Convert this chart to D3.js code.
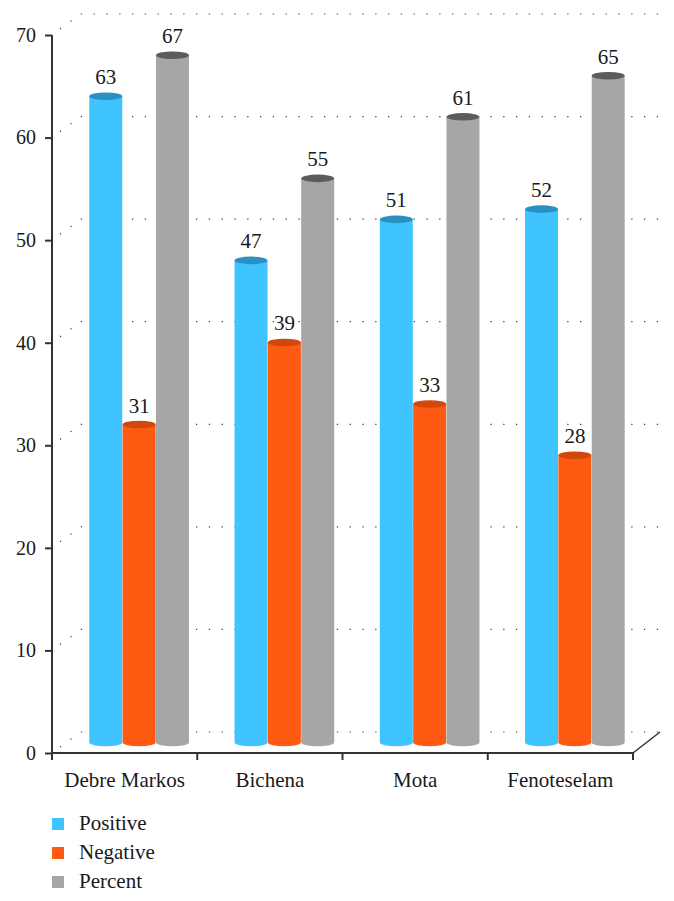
<!DOCTYPE html>
<html>
<head>
<meta charset="utf-8">
<script src="https://cdn.jsdelivr.net/npm/d3@7"></script>
<style>
  body { margin: 0; background: #fff; }
  svg text { font-family: "Liberation Serif", "DejaVu Serif", serif; fill: #1a1a1a; }
</style>
</head>
<body>
<div id="chart"></div>
<script>
// data
const categories = ['Debre Markos', 'Bichena', 'Mota', 'Fenoteselam'];
const seriesNames = ['Positive', 'Negative', 'Percent'];
const positive = [63, 47, 51, 52];
const negative = [31, 39, 33, 28];
const percent = [67, 55, 61, 65];
const yTicks = [0, 10, 20, 30, 40, 50, 60, 70];

const colors = {
  Positive: { side: '#40c4ff', top: '#2a8fc2' },
  Negative: { side: '#fe5a12', top: '#d2470b' },
  Percent: { side: '#a6a6a6', top: '#5c5c5c' }
};

const boxWidth = 674;
const boxHeight = 901;

const svg = d3.select('#chart')
  .append('svg')
  .attr('width', boxWidth)
  .attr('height', boxHeight);

// plot area
const plotLeft = 52, plotRight = 633, plotTop = 35, plotBottom = 753;
const depthX = 29, depthY = -21;   // back wall offset

const yScale = d3.scaleLinear().domain([0, 70]).range([plotBottom, plotTop]);
const xScale = d3.scaleBand().domain(categories).range([plotLeft, plotRight]);
const inner = d3.scaleBand().domain(seriesNames).range([-50, 50]);

// ********** back wall grid (dotted) **********
const grid = svg.append('g');
yTicks.forEach(t => {
  const yy = yScale(t);
  grid.append('path')
    .attr('d', `M${plotLeft + 8},${yy - 6} L${plotLeft + depthX},${yy + depthY} L660,${yy + depthY}`)
    .attr('fill', 'none')
    .attr('stroke', '#444')
    .attr('stroke-width', 1.2)
    .attr('stroke-dasharray', '1.3,11.5');
});

// ********** cylinders **********
const valuesBySeries = { Positive: positive, Negative: negative, Percent: percent };
const bars = [];
categories.forEach((c, i) => {
  seriesNames.forEach(s => {
    bars.push({ cat: c, series: s, value: valuesBySeries[s][i] });
  });
});

const rx = 16.5, ry = 3.8;
const bx = depthX / 2, by = depthY / 2;

const barG = svg.append('g');
const cyl = barG.selectAll('g.cyl')
  .data(bars)
  .enter()
  .append('g')
  .attr('class', 'cyl')
  .attr('transform', d => {
    const cx = xScale(d.cat) + xScale.bandwidth() / 2 + inner(d.series) + inner.bandwidth() / 2 + bx;
    return `translate(${cx}, ${by})`;
  });

cyl.append('path')
  .attr('d', d => {
    const yt = yScale(d.value), yb = yScale(0);
    return `M${-rx},${yt} L${-rx},${yb} A${rx},${ry} 0 0 0 ${rx},${yb} L${rx},${yt} Z`;
  })
  .attr('fill', d => colors[d.series].side);

cyl.append('ellipse')
  .attr('cx', 0)
  .attr('cy', d => yScale(d.value))
  .attr('rx', rx)
  .attr('ry', ry)
  .attr('fill', d => colors[d.series].top);

cyl.append('text')
  .attr('x', 0)
  .attr('y', d => yScale(d.value) - 12)
  .attr('text-anchor', 'middle')
  .style('font-size', '21px')
  .text(d => d.value);

// ********** axes **********
const lineColor = '#333';

const yAxis = d3.axisLeft(yScale)
  .tickValues(yTicks)
  .tickSize(7)
  .tickSizeOuter(0);

const yAxisGroup = svg.append('g')
  .attr('transform', `translate(${plotLeft}, 0)`)
  .call(yAxis);
yAxisGroup.select('.domain').remove();
yAxisGroup.selectAll('line').attr('stroke', lineColor).attr('stroke-width', 2);
yAxisGroup.selectAll('text')
  .attr('x', -16)
  .style('font-size', '20px')
  .style('font-family', '"Liberation Serif", serif')
  .attr('fill', '#1a1a1a');

svg.append('line')
  .attr('x1', plotLeft).attr('x2', plotLeft)
  .attr('y1', plotTop).attr('y2', plotBottom + 7)
  .attr('stroke', lineColor).attr('stroke-width', 2);

const xAxis = d3.axisBottom(xScale).tickSize(0).tickSizeOuter(0);
const xAxisGroup = svg.append('g')
  .attr('transform', `translate(0, ${plotBottom})`)
  .call(xAxis);
xAxisGroup.select('.domain').remove();
xAxisGroup.selectAll('text')
  .attr('y', 19)
  .attr('dy', '0.71em')
  .style('font-size', '21px')
  .style('font-family', '"Liberation Serif", serif')
  .attr('fill', '#1a1a1a');

svg.append('line')
  .attr('x1', plotLeft).attr('x2', plotRight)
  .attr('y1', plotBottom).attr('y2', plotBottom)
  .attr('stroke', lineColor).attr('stroke-width', 2);

// boundary ticks
const bounds = categories.map(c => xScale(c)).concat([plotRight]).slice(1);
svg.selectAll('line.xtick')
  .data(bounds)
  .enter()
  .append('line')
  .attr('class', 'xtick')
  .attr('x1', d => d).attr('x2', d => d)
  .attr('y1', plotBottom).attr('y2', plotBottom + 7)
  .attr('stroke', lineColor).attr('stroke-width', 2);

// floor edge on the right
svg.append('line')
  .attr('x1', plotRight).attr('y1', plotBottom)
  .attr('x2', plotRight + depthX - 2).attr('y2', plotBottom + depthY)
  .attr('stroke', lineColor).attr('stroke-width', 1.5);

// ********** legend **********
const legend = svg.append('g')
  .attr('transform', 'translate(52, 818)');
const items = legend.selectAll('g')
  .data(seriesNames)
  .enter()
  .append('g')
  .attr('transform', (d, i) => `translate(0, ${i * 29})`);
items.append('rect')
  .attr('width', 12).attr('height', 12)
  .attr('fill', d => colors[d].side);
items.append('text')
  .attr('x', 27).attr('y', 12)
  .style('font-size', '21px')
  .text(d => d);
</script>
</body>
</html>
